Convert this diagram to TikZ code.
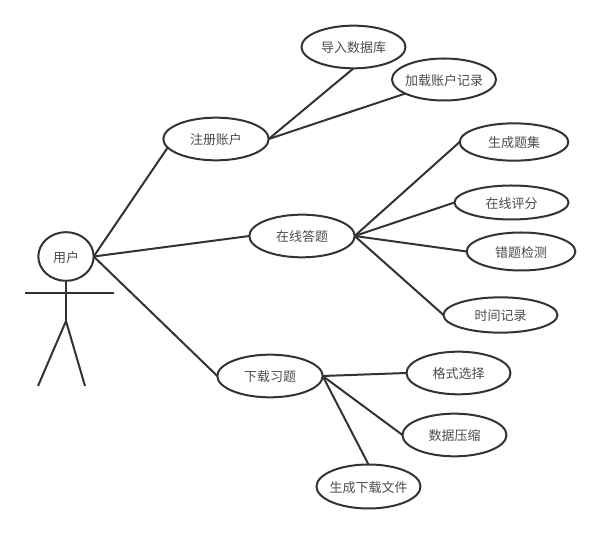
\documentclass[tikz,border=0pt]{standalone}
\usepackage{fontspec}
\newfontfamily\cjk{Noto Sans CJK SC}
\usetikzlibrary{shapes.geometric}
\definecolor{inkgray}{HTML}{333333}
\definecolor{textgray}{HTML}{4C4C4C}

\begin{document}
\begin{tikzpicture}[
    x=0.75pt, y=-0.75pt,
    usecase/.style={draw=inkgray, line width=1.5pt, ellipse, inner sep=0pt, outer sep=0pt,
        text centered, text height=10pt, text depth=1pt,
        font=\fontsize{9.75}{12}\cjk, text=textgray},
    link/.style={draw=inkgray, line width=1.5pt}
  ]
  \useasboundingbox (0,0) rectangle (601,534);
  % actor
  \node[usecase, minimum width=41.5pt, minimum height=36.5pt] (user) at (66,256.5) {用户};
  \coordinate (armL) at (25,293);
  \coordinate (armR) at (114,293);
  \coordinate (hip) at (66,321);
  \coordinate (footL) at (38,386);
  \coordinate (footR) at (85,386);
  \draw[link] (user.south) -- (hip);
  \draw[link] (armL) -- (armR);
  \draw[link] (footL) -- (hip) -- (footR);

  % first level
  \node[usecase, minimum width=79pt, minimum height=32pt] (reg) at (216,139) {注册账户};
  \node[usecase, minimum width=79pt, minimum height=32pt] (answer) at (302,236) {在线答题};
  \node[usecase, minimum width=79pt, minimum height=32pt] (down) at (270,376) {下载习题};

  % second level
  \node[usecase, minimum width=78pt, minimum height=32pt] (import) at (353.5,47) {导入数据库};
  \node[usecase, minimum width=78pt, minimum height=31.5pt, inner xsep=-2.4pt] (load) at (444,79.5) {加载账户记录};
  \node[usecase, minimum width=81.5pt, minimum height=28pt] (gen) at (514,142) {生成题集};
  \node[usecase, minimum width=85.5pt, minimum height=25.5pt] (score) at (511.5,202.5) {在线评分};
  \node[usecase, minimum width=81.5pt, minimum height=28.5pt] (wrong) at (521,251.5) {错题检测};
  \node[usecase, minimum width=85.5pt, minimum height=26.5pt] (time) at (500.5,315) {时间记录};
  \node[usecase, minimum width=78pt, minimum height=32pt] (format) at (458.5,373) {格式选择};
  \node[usecase, minimum width=78pt, minimum height=32pt] (zip) at (454.5,435) {数据压缩};
  \node[usecase, minimum width=78pt, minimum height=33pt, inner xsep=-2.4pt] (file) at (368.5,486.5) {生成下载文件};

  \draw[link] (user.east) -- (reg.190);
  \draw[link] (user.east) -- (answer.west);
  \draw[link] (user.east) -- (down.west);
  \draw[link] (reg.east) -- (import.-90);
  \draw[link] (reg.east) -- (load.200);
  \draw[link] (answer.east) -- (gen.west);
  \draw[link] (answer.east) -- (score.west);
  \draw[link] (answer.east) -- (wrong.west);
  \draw[link] (answer.east) -- (time.west);
  \draw[link] (down.east) -- (format.west);
  \draw[link] (down.east) -- (zip.west);
  \draw[link] (down.east) -- (file.north);
\end{tikzpicture}
\end{document}
